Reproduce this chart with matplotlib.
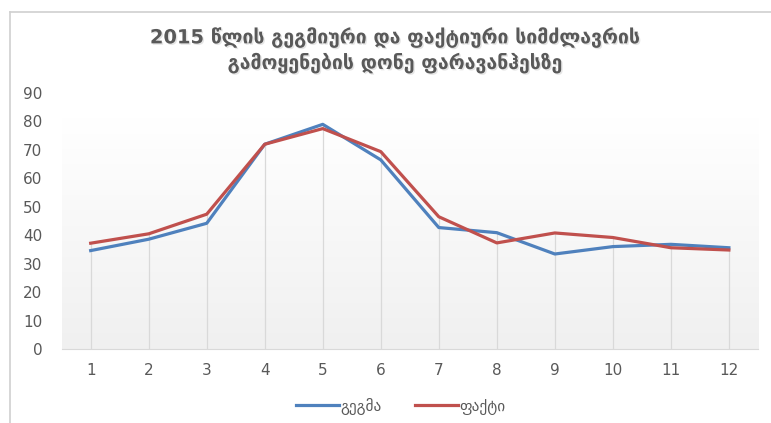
import numpy as np
import matplotlib.pyplot as plt
from matplotlib.lines import Line2D
from matplotlib.colors import LinearSegmentedColormap
import matplotlib.patheffects as pe

plt.rcParams['font.family'] = ['DejaVu Sans']

months = [1, 2, 3, 4, 5, 6, 7, 8, 9, 10, 11, 12]
plan = [34.6, 38.6, 44.2, 72.0, 79.0, 66.5, 42.7, 40.9, 33.4, 36.0, 36.8, 35.6]
fact = [37.2, 40.5, 47.4, 72.0, 77.5, 69.4, 46.5, 37.3, 40.8, 39.2, 35.6, 34.8]
title = '2015 წლის გეგმიური და ფაქტიური სიმძლავრის\nგამოყენების დონე ფარავანჰესზე'
labels = ['გეგმა', 'ფაქტი']

blue = '#4F81BD'
red = '#C0504D'
gray = '#595959'

fig = plt.figure(figsize=(7.71, 4.23), dpi=100)
ax = fig.add_axes([0.080, 0.175, 0.903, 0.605])

# soft gradient behind the plot area
grad = np.linspace(0, 1, 256).reshape(-1, 1)
cmap = LinearSegmentedColormap.from_list('g', ['#ffffff', '#f0f0f0'])
ax.imshow(grad, extent=(0.5, 12.5, 0, 81), aspect='auto', origin='upper',
          cmap=cmap, zorder=0)

# drop lines from axis to the higher series
tops = np.maximum(plan, fact)
ax.vlines(months, 0, tops, color='#d9d9d9', lw=0.9, zorder=1)

ax.plot(months, plan, color=blue, lw=2.3, label=labels[0], zorder=3)
ax.plot(months, fact, color=red, lw=2.3, label=labels[1], zorder=3)

ax.set_xlim(0.5, 12.5)
ax.set_ylim(0, 90)
ax.set_xticks(months)
ax.set_yticks(range(0, 91, 10))
ax.tick_params(length=0, colors=gray, labelsize=11)
ax.tick_params(axis='x', pad=10)
ax.tick_params(axis='y', pad=14)
for s in ['top', 'right', 'left']:
    ax.spines[s].set_visible(False)
ax.spines['bottom'].set_color('#d9d9d9')

fig.text(0.513, 0.881, title, ha='center', va='center', fontsize=14,
         fontweight='bold', color=gray, linespacing=1.3,
         path_effects=[pe.withSimplePatchShadow(offset=(1, -1), shadow_rgbFace='#cccccc', alpha=0.5)])

fig.legend(loc='center', bbox_to_anchor=(0.52, 0.04), ncol=2, frameon=False,
           fontsize=11, labelcolor=gray, handlelength=2.8, handletextpad=0.1,
           columnspacing=2.2)

# outer chart border (left and top visible)
fig.add_artist(Line2D([0.013, 0.013], [0, 0.972], color='#d0d0d0', lw=1.2))
fig.add_artist(Line2D([0.013, 1.0], [0.972, 0.972], color='#d0d0d0', lw=1.2))

plt.savefig('out.png', dpi=100)
